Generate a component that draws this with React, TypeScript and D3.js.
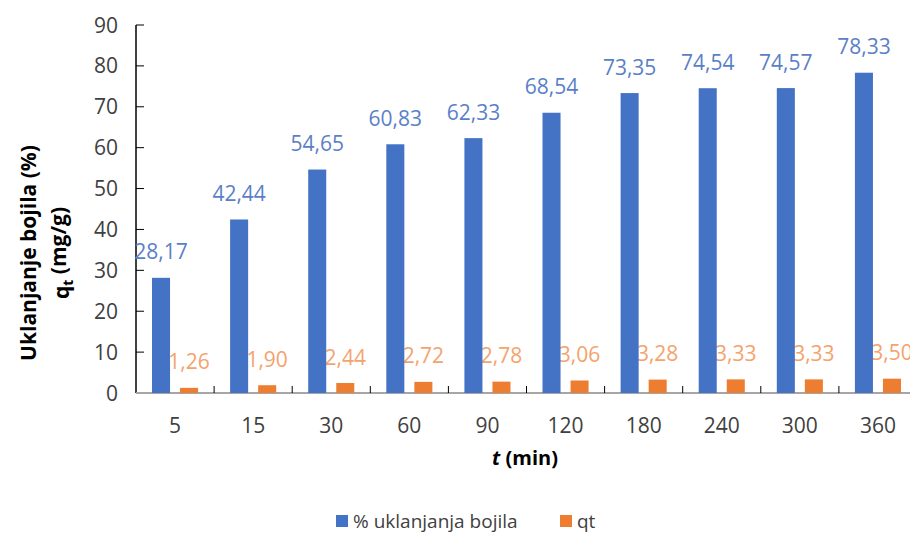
import React, { useEffect, useRef } from "react";
import * as d3 from "d3";

const times = ["5", "15", "30", "60", "90", "120", "180", "240", "300", "360"];
const removal = [28.17, 42.44, 54.65, 60.83, 62.33, 68.54, 73.35, 74.54, 74.57, 78.33];
const qt = [1.26, 1.9, 2.44, 2.72, 2.78, 3.06, 3.28, 3.33, 3.33, 3.5];
const yTicks = [0, 10, 20, 30, 40, 50, 60, 70, 80, 90];
const seriesNames = ["% uklanjanja bojila", "qt"];
const colors = ["#4472C4", "#ED7D31"];

const fmt = (v: number) => v.toFixed(2).replace(".", ",");

const App = () => {
  const ref = useRef<SVGSVGElement>(null);

  useEffect(() => {
    const svg = d3.select(ref.current);
    svg.selectAll("*").remove();

    const width = 910;
    const height = 547;
    const font = "'Open Sans', sans-serif";
    const plot = { left: 136, right: 917, top: 25, bottom: 393 };

    const x = d3.scaleBand().domain(times).range([plot.left, plot.right]);
    const inner = d3
      .scaleBand()
      .domain(seriesNames)
      .range([0, x.bandwidth()])
      .paddingInner(0.357)
      .paddingOuter(0.571);
    const y = d3.scaleLinear().domain([0, 90]).range([plot.bottom, plot.top]);

    svg.attr("width", width).attr("height", height);
    svg.append("rect").attr("width", width).attr("height", height).attr("fill", "#fff");

    const rows = times.map((t, i) => ({ t, a: removal[i], b: qt[i] }));

    // y axis
    const yg = svg.append("g");
    yg.append("line")
      .attr("x1", plot.left).attr("x2", plot.left)
      .attr("y1", plot.top).attr("y2", plot.bottom)
      .attr("stroke", "#000").attr("stroke-width", 1.5);
    yg.selectAll(".yt")
      .data(yTicks)
      .enter()
      .append("line")
      .attr("x1", plot.left).attr("x2", plot.left + 8)
      .attr("y1", d => y(d)).attr("y2", d => y(d))
      .attr("stroke", "#000").attr("stroke-width", 1);
    yg.selectAll(".yl")
      .data(yTicks)
      .enter()
      .append("text")
      .attr("x", plot.left - 18)
      .attr("y", d => y(d))
      .attr("dy", "0.36em")
      .attr("text-anchor", "end")
      .attr("font-family", font)
      .attr("font-size", 21)
      .attr("fill", "#404040")
      .text(d => d);

    // x axis
    svg.append("line")
      .attr("x1", plot.left).attr("x2", plot.right)
      .attr("y1", plot.bottom).attr("y2", plot.bottom)
      .attr("stroke", "#A6A6A6").attr("stroke-width", 2);
    svg.selectAll(".xt")
      .data(times.slice(1))
      .enter()
      .append("line")
      .attr("x1", d => x(d)!).attr("x2", d => x(d)!)
      .attr("y1", plot.bottom - 7).attr("y2", plot.bottom)
      .attr("stroke", "#000").attr("stroke-width", 1);
    svg.selectAll(".xl")
      .data(times)
      .enter()
      .append("text")
      .attr("x", d => x(d)! + x.bandwidth() / 2)
      .attr("y", 425)
      .attr("dy", "0.36em")
      .attr("text-anchor", "middle")
      .attr("font-family", font)
      .attr("font-size", 21)
      .attr("fill", "#404040")
      .text(d => d);

    // qt labels (sit under the blue bars)
    svg.selectAll(".lb")
      .data(rows)
      .enter()
      .append("text")
      .attr("x", d => x(d.t)! + inner("qt")! + inner.bandwidth() / 2)
      .attr("y", d => y(d.b) - 26)
      .attr("dy", "0.36em")
      .attr("text-anchor", "middle")
      .attr("font-family", font)
      .attr("font-size", 21)
      .attr("fill", "#F4A36D")
      .text(d => fmt(d.b));

    // bars
    svg.selectAll(".ba")
      .data(rows)
      .enter()
      .append("rect")
      .attr("x", d => x(d.t)! + inner(seriesNames[0])!)
      .attr("y", d => y(d.a))
      .attr("width", inner.bandwidth())
      .attr("height", d => plot.bottom - y(d.a))
      .attr("fill", colors[0]);
    svg.selectAll(".bb")
      .data(rows)
      .enter()
      .append("rect")
      .attr("x", d => x(d.t)! + inner("qt")!)
      .attr("y", d => y(d.b))
      .attr("width", inner.bandwidth())
      .attr("height", d => plot.bottom - y(d.b))
      .attr("fill", colors[1]);

    // removal labels
    svg.selectAll(".la")
      .data(rows)
      .enter()
      .append("text")
      .attr("x", d => x(d.t)! + inner(seriesNames[0])! + inner.bandwidth() / 2)
      .attr("y", d => y(d.a) - 26)
      .attr("dy", "0.36em")
      .attr("text-anchor", "middle")
      .attr("font-family", font)
      .attr("font-size", 21)
      .attr("fill", "#5B7FC7")
      .text(d => fmt(d.a));

    // axis titles
    const xt = svg.append("text")
      .attr("x", 525).attr("y", 458).attr("dy", "0.36em")
      .attr("text-anchor", "middle")
      .attr("font-family", font).attr("font-size", 20).attr("font-weight", "bold")
      .attr("fill", "#000");
    xt.append("tspan").attr("font-style", "italic").text("t");
    xt.append("tspan").text(" (min)");

    svg.append("text")
      .attr("transform", "translate(28,253) rotate(-90)")
      .attr("text-anchor", "middle").attr("dy", "0.36em")
      .attr("font-family", font).attr("font-size", 21).attr("font-weight", "bold")
      .text("Uklanjanje bojila (%)");
    const yt2 = svg.append("text")
      .attr("transform", "translate(61,253) rotate(-90)")
      .attr("text-anchor", "middle").attr("dy", "0.36em")
      .attr("font-family", font).attr("font-size", 21).attr("font-weight", "bold");
    yt2.append("tspan").text("q");
    yt2.append("tspan").attr("font-size", 14).attr("dy", "0.3em").text("t");
    yt2.append("tspan").attr("dy", "-0.3em").text(" (mg/g)");

    // legend
    const lg = svg.append("g").attr("transform", "translate(336,521)");
    const items = [
      { name: seriesNames[0], color: colors[0], x: 0 },
      { name: seriesNames[1], color: colors[1], x: 224 },
    ];
    items.forEach(it => {
      lg.append("rect")
        .attr("x", it.x).attr("y", -6)
        .attr("width", 12).attr("height", 12)
        .attr("fill", it.color);
      lg.append("text")
        .attr("x", it.x + 17).attr("y", 0).attr("dy", "0.36em")
        .attr("font-family", font).attr("font-size", 19)
        .attr("fill", "#404040")
        .text(it.name);
    });
  }, []);

  return (
    <svg ref={ref} style={{ position: "absolute", left: 0, top: 0 }}></svg>
  );
};

export default App;
